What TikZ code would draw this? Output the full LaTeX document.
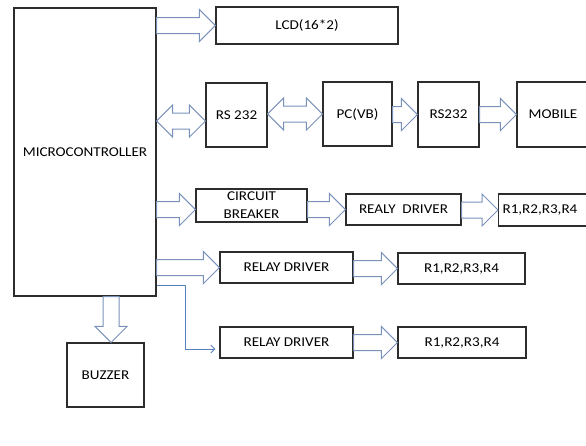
\documentclass[tikz,border=0pt]{standalone}
\usepackage{fontspec}
\setmainfont[FakeStretch=1.12]{Carlito}
\usepackage{tikz}
\usetikzlibrary{calc}
\usetikzlibrary{arrows.meta}
\usetikzlibrary{positioning}

\definecolor{arrline}{RGB}{122,146,186}
\definecolor{thinline}{RGB}{88,128,190}
\definecolor{boxline}{RGB}{45,45,45}

\tikzset{
  blk/.style={draw=boxline, line width=1.1pt, fill=white, inner sep=2pt,
    font=\fontsize{13.5}{15}\selectfont},
  fatarr/.style={draw=arrline, line width=1pt, fill=white, line join=miter},
  thinarr/.style={draw=thinline, line width=0.9pt, -{Straight Barb[length=4pt,width=8pt]}}
}

% block arrow from the x of #1 to #2, at the height of #2
\newcommand{\fatarrow}[2]{%
  \draw[fatarr] let \p1=(#1), \p2=(#2) in
    (\x1,\y2+8) -- (\x2-16,\y2+8) -- (\x2-16,\y2+16) -- (\x2,\y2)
    -- (\x2-16,\y2-16) -- (\x2-16,\y2-8) -- (\x1,\y2-8) -- cycle;}
% block arrow with a head at both ends
\newcommand{\twoarrow}[2]{%
  \draw[fatarr] let \p1=(#1), \p2=(#2) in
    (\x1,\y2) -- (\x1+16,\y2+16) -- (\x1+16,\y2+8) -- (\x2-16,\y2+8)
    -- (\x2-16,\y2+16) -- (\x2,\y2) -- (\x2-16,\y2-16) -- (\x2-16,\y2-8)
    -- (\x1+16,\y2-8) -- (\x1+16,\y2-16) -- cycle;}

\begin{document}
\begin{tikzpicture}[x=1pt, y=-1pt]
  \useasboundingbox (0,0) rectangle (586,445);

  \node[blk, minimum width=142, minimum height=288] (mc) at (85,152) {MICROCONTROLLER};
  \node[blk, minimum width=182, minimum height=37] (lcd) at (307,25.5) {LCD(16*2)};

  \node[blk, minimum width=61, minimum height=64] (rsa) at (236.5,115) {RS 232};
  \node[blk, minimum width=69, minimum height=64] (pc) at (357.5,114) {PC(VB)};
  \node[blk, minimum width=61, minimum height=65] (rsb) at (448.5,114.5) {RS232};
  \node[blk, minimum width=72, minimum height=65] (mob) at (553,114.5) {MOBILE};

  \node[blk, minimum width=111, minimum height=33, inner ysep=0pt, align=center,
    font=\fontsize{13.5}{18}\selectfont] (cb) at (251.5,205.5) {CIRCUIT\\BREAKER};
  \node[blk, minimum width=115, minimum height=31] (rda) at (403.5,209.5) {REALY~~DRIVER};
  \node[blk, anchor=west, text width=118, inner xsep=4pt, align=left,
    minimum height=32] (ra) at (498,210) {R1,R2,R3,R4};

  \node[blk, minimum width=133, minimum height=31] (rdb) at (286.5,267.5) {RELAY DRIVER};
  \node[blk, minimum width=127, minimum height=31] (rb) at (461.5,268.5) {R1,R2,R3,R4};

  \node[blk, minimum width=133, minimum height=31] (rdc) at (286.5,342.5) {RELAY DRIVER};
  \node[blk, minimum width=128, minimum height=31] (rc) at (462,342.5) {R1,R2,R3,R4};

  \node[blk, minimum width=77, minimum height=64] (bz) at (105.5,375) {BUZZER};

  \fatarrow{mc.east}{lcd.west}
  \twoarrow{mc.east}{$(rsa.west)+(0,6)$}
  \twoarrow{rsa.east}{pc.west}
  \fatarrow{pc.east}{rsb.west}
  \fatarrow{rsb.east}{mob.west}

  \fatarrow{mc.east}{$(cb.west)+(0,4)$}
  \fatarrow{cb.east}{rda.west}
  \fatarrow{rda.east}{ra.west}

  \fatarrow{mc.east}{rdb.west}
  \fatarrow{rdb.east}{rb.west}
  \fatarrow{rdc.east}{rc.west}

  % buzzer
  \draw[fatarr] let \p1=(mc.south), \p2=($(bz.north)+(5.5,0)$) in
    (\x2-8,\y1) -- (\x2-8,\y2+16) -- (\x2-16,\y2+16) -- (\x2,\y2)
    -- (\x2+16,\y2+16) -- (\x2+8,\y2+16) -- (\x2+8,\y1) -- cycle;

  \coordinate (tapc) at ($(mc.south east)+(0,-11)$);
  \draw[thinarr] (tapc) -| ($(rdc.west)+(-34,6.5)$) -- ($(rdc.west)+(-4,6.5)$);
\end{tikzpicture}
\end{document}
